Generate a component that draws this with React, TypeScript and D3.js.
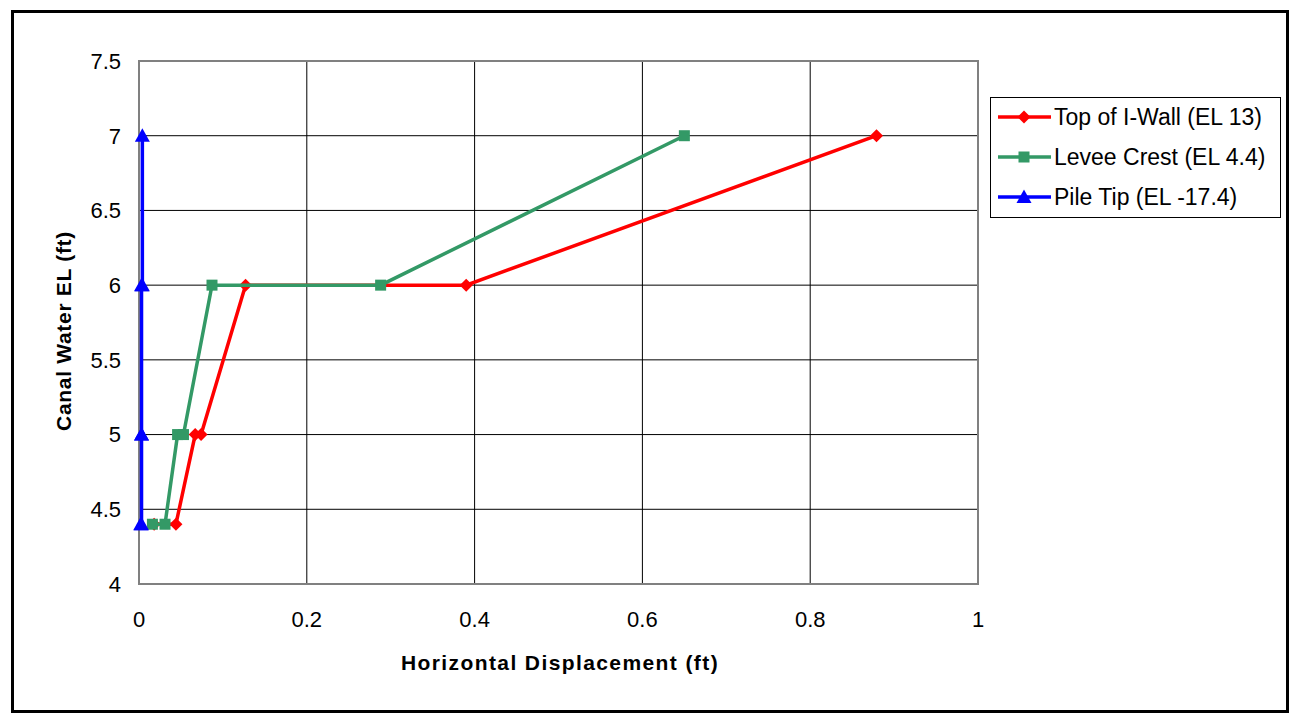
import React from "react";
import * as d3 from "d3";

const xTicks = [0, 0.2, 0.4, 0.6, 0.8, 1];
const yTicks = [4, 4.5, 5, 5.5, 6, 6.5, 7, 7.5];

const wallX = [0.018, 0.044, 0.067, 0.074, 0.127, 0.39, 0.879];
const wallY = [4.4, 4.4, 5, 5, 6, 6, 7];
const leveeX = [0.016, 0.031, 0.046, 0.053, 0.087, 0.288, 0.65];
const leveeY = [4.4, 4.4, 5, 5, 6, 6, 7];
const pileX = [0.002, 0.003, 0.003, 0.003, 0.003, 0.004, 0.004];
const pileY = [4.4, 4.4, 5, 5, 6, 6, 7];

const seriesNames = ["Top of I-Wall (EL 13)", "Levee Crest (EL 4.4)", "Pile Tip (EL -17.4)"];
const seriesColors = ["#ff0000", "#339966", "#0000ff"];
const seriesMarkers = ["diamond", "square", "triangle"];

const W = 1290;
const H = 719;
const M = { left: 139, right: 978, top: 61, bottom: 584 };
const FONT = "'Liberation Sans', Arial, sans-serif";

function Marker({ type, x, y, color }: { type: string; x: number; y: number; color: string }) {
  if (type === "diamond") {
    const s = 6.5;
    return <path d={`M${x},${y - s}L${x + s},${y}L${x},${y + s}L${x - s},${y}Z`} fill={color} />;
  }
  if (type === "square") {
    const s = 5.5;
    return <rect x={x - s} y={y - s} width={2 * s} height={2 * s} fill={color} />;
  }
  const s = 7.5;
  return <path d={`M${x},${y - s}L${x + s},${y + s * 0.8}L${x - s},${y + s * 0.8}Z`} fill={color} />;
}

export default function App() {
  const x = d3.scaleLinear().domain([0, 1]).range([M.left, M.right]);
  const y = d3.scaleLinear().domain([4, 7.5]).range([M.bottom, M.top]);
  const series = [
    { xs: wallX, ys: wallY },
    { xs: leveeX, ys: leveeY },
    { xs: pileX, ys: pileY },
  ];
  const line = d3
    .line<[number, number]>()
    .x((d) => x(d[0]))
    .y((d) => y(d[1]));

  const legendX = 990;
  const legendY = 97;
  return (
    <svg width={W} height={H} style={{ position: "absolute", left: 0, top: 0, display: "block" }} fontFamily={FONT}>
      <rect x={0} y={0} width={W} height={H} fill="#fff" />
      <rect x={12.5} y={11.5} width={1275} height={700} fill="none" stroke="#000" strokeWidth={3} />
      {yTicks.map((t) => (
        <line key={"gy" + t} x1={M.left} x2={M.right} y1={y(t)} y2={y(t)} stroke="#000" strokeWidth={1} />
      ))}
      {xTicks.map((t) => (
        <line key={"gx" + t} x1={x(t)} x2={x(t)} y1={M.top} y2={M.bottom} stroke="#000" strokeWidth={1} />
      ))}
      <rect x={M.left} y={M.top} width={M.right - M.left} height={M.bottom - M.top} fill="none" stroke="#808080" strokeWidth={2} />
      {yTicks.map((t) => (
        <text key={"ty" + t} x={121} y={y(t)} dy="0.36em" textAnchor="end" fontSize={22} fill="#000">
          {String(t)}
        </text>
      ))}
      {xTicks.map((t) => (
        <text key={"tx" + t} x={x(t)} y={619} dy="0.36em" textAnchor="middle" fontSize={22} fill="#000">
          {String(t)}
        </text>
      ))}
      <text x={560} y={662} dy="0.36em" textAnchor="middle" fontSize={21} fontWeight="bold" letterSpacing={1.4}>
        Horizontal Displacement (ft)
      </text>
      <text
        transform={`translate(63,331) rotate(-90)`}
        dy="0.36em"
        textAnchor="middle"
        fontSize={21}
        fontWeight="bold"
        letterSpacing={0.7}
      >
        Canal Water EL (ft)
      </text>
      {series.map((s, i) => {
        const pts = s.xs.map((v, j) => [v, s.ys[j]] as [number, number]);
        return (
          <g key={"s" + i}>
            <path d={line(pts) || ""} fill="none" stroke={seriesColors[i]} strokeWidth={3.5} />
            {pts.map((p, j) => (
              <Marker key={j} type={seriesMarkers[i]} x={x(p[0])} y={y(p[1])} color={seriesColors[i]} />
            ))}
          </g>
        );
      })}
      <rect x={legendX + 0.5} y={legendY + 0.5} width={290} height={120} fill="#fff" stroke="#000" strokeWidth={1} />
      {seriesNames.map((n, i) => {
        const cy = legendY + 20 + i * 40;
        return (
          <g key={"l" + i}>
            <line x1={998} x2={1051} y1={cy} y2={cy} stroke={seriesColors[i]} strokeWidth={3.5} />
            <Marker type={seriesMarkers[i]} x={1024} y={cy} color={seriesColors[i]} />
            <text x={1054} y={cy} dy="0.36em" fontSize={23} fill="#000">
              {n}
            </text>
          </g>
        );
      })}
    </svg>
  );
}
